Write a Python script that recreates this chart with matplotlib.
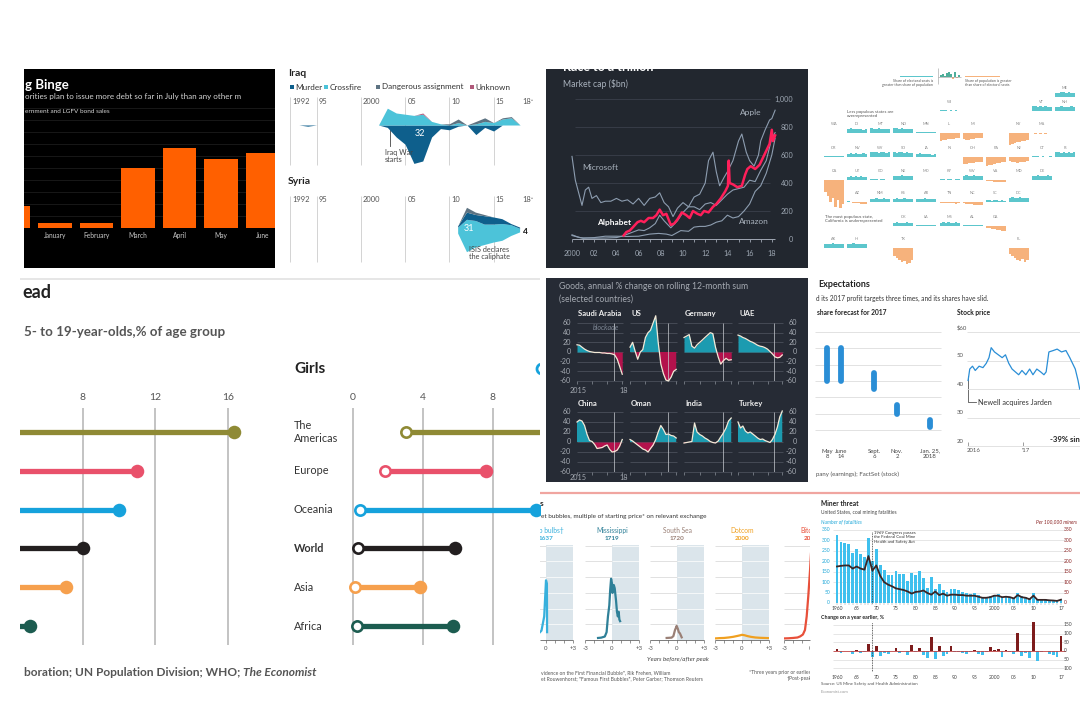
import numpy as np
import pandas as pd
import matplotlib
matplotlib.use("Agg")
import matplotlib.pyplot as plt
from matplotlib.patches import Rectangle, Circle
from matplotlib.transforms import blended_transform_factory as blend

plt.rcParams['font.family'] = ['Lato', 'DejaVu Sans']

# ============================ DATA ============================
# Panel 1 - borrowing binge
binge_months = ["July", "January", "February", "March", "April", "May", "June"]
binge_values = [110, 25, 25, 300, 400, 345, 375]

# Panel 2 - journalists killed (Iraq / Syria)
iraq_years = list(range(1992, 2019))
iraq_murder = [0, 0, 1, 0, 0, 0, 0, 0, 0, 0, 0, 2, 10, 16, 32, 30, 10, 3, 4, 1, 0, 8, 2, 5, 0, 0, 0]
iraq_crossfire = [0, 0, 0, 0, 0, 0, 0, 0, 0, 0, 0, 14, 10, 9, 8, 9, 3, 1, 0, 2, 0, 1, 3, 2, 5, 6, 0]
iraq_dangerous = [0, 0, 0, 0, 0, 0, 0, 0, 0, 0, 0, 0, 0, 0, 0, 0, 0, 0, 1, 3, 0, 2, 3, 0, 1, 1, 0]
iraq_unknown = [0, 0, 0, 0, 0, 0, 0, 0, 0, 0, 0, 0, 0, 0, 0, 1, 0, 0, 0, 0, 0, 0, 0, 0, 0, 0, 0]
syria_years = [2011, 2012, 2013, 2014, 2015, 2016, 2017, 2018]
syria_crossfire = [5, 27, 22, 17, 15, 14, 9, 3]
syria_murder = [1, 6, 5, 7, 6, 4, 1, 1]
syria_dangerous = [0, 4, 2, 1, 0, 0, 0, 0]
stream_ticks = [1992, 1995, 2000, 2005, 2010, 2015]
stream_tick_labels = ["1992", "95", "2000", "05", "10", "15"]

# Panel 3 - race to a trillion (market cap, $bn)
msft_t = [2000.0, 2000.3, 2000.6, 2000.9, 2001.2, 2001.5, 2001.8, 2002.2, 2002.6, 2003.0, 2003.5, 2004.0,
          2004.5, 2005.0, 2005.5, 2006.0, 2006.5, 2007.0, 2007.5, 2007.9, 2008.3, 2008.7, 2009.1, 2009.5,
          2010.0, 2010.5, 2011.0, 2011.5, 2012.0, 2012.5, 2013.0, 2013.5, 2014.0, 2014.5, 2015.0, 2015.5,
          2016.0, 2016.5, 2017.0, 2017.5, 2018.0, 2018.3]
msft_cap = [590, 420, 330, 240, 350, 370, 290, 310, 260, 270, 270, 290, 270, 280, 250, 290, 240, 290,
            300, 330, 260, 230, 160, 220, 260, 230, 230, 210, 250, 260, 240, 280, 320, 350, 360, 370,
            420, 410, 490, 560, 720, 760]
apple_t = [2000.0, 2000.7, 2001.0, 2002.0, 2003.0, 2004.0, 2004.5, 2005.0, 2005.5, 2006.0, 2006.5, 2007.0,
           2007.5, 2007.9, 2008.3, 2008.9, 2009.5, 2010.0, 2010.5, 2011.0, 2011.5, 2012.0, 2012.3, 2012.7,
           2013.0, 2013.3, 2013.7, 2014.0, 2014.5, 2015.0, 2015.3, 2015.7, 2016.0, 2016.4, 2016.8, 2017.0,
           2017.4, 2017.8, 2018.0, 2018.3]
apple_cap = [25, 10, 8, 6, 7, 10, 20, 35, 50, 65, 60, 80, 110, 170, 130, 80, 130, 190, 230, 300, 320,
             400, 560, 620, 480, 380, 440, 480, 560, 700, 750, 620, 560, 520, 600, 700, 780, 850, 860, 920]
googl_t = [2004.65, 2004.9, 2005.2, 2005.5, 2005.9, 2006.2, 2006.5, 2006.9, 2007.3, 2007.6, 2007.9, 2008.2,
           2008.5, 2008.9, 2009.2, 2009.5, 2009.9, 2010.3, 2010.6, 2010.9, 2011.3, 2011.6, 2011.9, 2012.3,
           2012.7, 2013.0, 2013.4, 2013.8, 2014.05, 2014.12, 2014.2, 2014.5, 2014.9, 2015.3, 2015.6, 2015.8,
           2016.1, 2016.5, 2016.9, 2017.2, 2017.5, 2017.8, 2018.0, 2018.1, 2018.3]
googl_cap = [25, 50, 60, 85, 120, 130, 120, 150, 150, 170, 210, 170, 180, 100, 110, 140, 190, 170, 150,
             200, 180, 170, 200, 190, 230, 250, 290, 340, 380, 560, 400, 390, 370, 380, 460, 500, 520,
             500, 530, 580, 630, 680, 780, 700, 740]
amzn_t = [2000.0, 2000.5, 2001.0, 2001.5, 2002.0, 2003.0, 2004.0, 2005.0, 2006.0, 2007.0, 2007.8, 2008.5,
          2009.0, 2009.8, 2010.5, 2011.0, 2011.5, 2012.0, 2012.5, 2013.0, 2013.5, 2014.0, 2014.5, 2015.0,
          2015.5, 2016.0, 2016.5, 2017.0, 2017.5, 2018.0, 2018.3]
amzn_cap = [30, 15, 5, 8, 10, 20, 20, 18, 20, 35, 40, 35, 25, 60, 55, 85, 90, 90, 100, 120, 130, 170,
            150, 160, 200, 250, 340, 380, 470, 600, 720]

# Panel 4 - tile map of electoral representation
states = ["ME", "WI", "VT", "NH", "WA", "ID", "MT", "ND", "MN", "IL", "MI", "NY", "MA",
          "OR", "NV", "WY", "SD", "IA", "IN", "OH", "PA", "NJ", "CT", "RI",
          "CA", "UT", "CO", "NE", "MO", "KY", "WV", "VA", "MD", "DE",
          "AZ", "NM", "KS", "AR", "TN", "NC", "SC", "DC",
          "OK", "LA", "MS", "AL", "GA", "AK", "HI", "TX", "FL"]
tile_col = [10, 5, 9, 10, 0, 1, 2, 3, 4, 5, 6, 8, 9,
            0, 1, 2, 3, 4, 5, 6, 7, 8, 9, 10,
            0, 1, 2, 3, 4, 5, 6, 7, 8, 9,
            1, 2, 3, 4, 5, 6, 7, 8,
            3, 4, 5, 6, 7, 0, 1, 3, 8]
tile_row = [0, 1, 1, 1, 2, 2, 2, 2, 2, 2, 2, 2, 2,
            3, 3, 3, 3, 3, 3, 3, 3, 3, 3, 3,
            4, 4, 4, 4, 4, 4, 4, 4, 4, 4,
            5, 5, 5, 5, 5, 5, 5, 5,
            6, 6, 6, 6, 6, 7, 7, 7, 7]
tile_values = [
    [4, 4, 5, 5, 4, 5, 4, 4], [1, 1, 1, 0.5, 1, 0.5, 1, 0.5], [5, 5, 4, 5, 4, 5, 4, 4], [4, 4, 5, 4, 4, 4, 5, 4],
    [0.5, 0.5, 0.5, 0.3, 0.5, 0.3, 0.3, 0.3], [4, 5, 4, 4, 4, 4, 3, 4], [5, 4, 4, 5, 4, 4, 4, 4],
    [5, 5, 4, 5, 4, 4, 4, 4], [1.5, 1, 1, 1.5, 1, 1, 1, 1], [-8, -7, -7, -6, -6, -6, -5, -5],
    [-6, -7, -7, -6, -6, -5, -5, -5], [-12, -11, -10, -9, -9, -8, -8, -7], [0.5, -1, 0.5, -1, 0.5, -0.5, 0.5, 0.5],
    [1, 1.5, 1, 1, 1.5, 1, 1, 1], [3, 4, 3, 4, 3, 3, 4, 3], [5, 5, 5, 4, 5, 5, 4, 5], [5, 4, 5, 5, 4, 5, 4, 4],
    [3, 4, 3, 3, 3, 3, 2, 3], [0.5, 0.5, 0.3, 0.5, 0.3, 0.3, 0.5, 0.3], [-7, -7, -6, -6, -6, -5, -5, -5],
    [-9, -8, -8, -7, -6, -6, -5, -5], [-4, -5, -5, -6, -5, -5, -5, -4], [1, 1, 1, 0.5, 1, 0.5, 0.5, 1],
    [5, 5, 4, 5, 4, 5, 4, 5],
    [-12, -16, -22, -18, -27, -20, -28, -24], [3, 4, 3, 4, 3, 4, 3, 3], [1, 1, 1, 0.5, 1, 1, 0.5, 0.5],
    [4, 4, 4, 5, 4, 4, 4, 4], [0.5, 0.3, 0.5, 0.3, 0.3, 0.5, 0.3, 0.3], [1, 1, 0.5, 1, 1, 0.5, 1, 1],
    [4, 5, 4, 4, 5, 4, 4, 4], [-1, -1, -1, -1.5, -1.5, -2, -2, -2], [0.5, 0.5, 0.3, -0.3, 0.3, -0.3, 0.3, 0.3],
    [4, 4, 5, 4, 4, 4, 5, 4],
    [1, 0.5, -0.5, -1, -1, -1.5, -1.5, -2], [3, 3, 4, 3, 3, 4, 3, 3], [3, 4, 3, 3, 4, 3, 3, 3],
    [3, 3, 3, 4, 3, 3, 3, 3], [-0.5, -1, -1, -0.5, -1, -1, -1.5, -1], [-1, -1.5, -2, -2, -2.5, -3, -3, -3],
    [2, 2, 1.5, 2, 2, 1.5, 2, 1.5], [4, 5, 4, 4, 5, 4, 4, 4],
    [3, 4, 3, 3, 3, 4, 3, 3], [1, 1, 0.5, 1, 0.5, 1, 0.5, 0.5], [3, 4, 3, 4, 3, 3, 4, 3],
    [1, 0.5, 1, 0.5, 1, 0.5, 0.5, 0.5], [-2, -2, -3, -3, -4, -4, -5, -5],
    [4, 4, 4, 5, 4, 4, 4, 4], [4, 4, 5, 4, 4, 4, 4, 4], [-8, -10, -12, -14, -13, -16, -15, -12],
    [-6, -8, -10, -12, -13, -11, -14, -12]]
key_values = [2, 3, 1, 4, 5, 3, -2, 5, -1, 2]

# Panel 5 - lollipops (% of age group)
regions = ["The\nAmericas", "Europe", "Oceania", "World", "Asia", "Africa"]
region_colors = ['#8f8a35', '#e9516b', '#16a2dc', '#231f20', '#f6a04d', '#1c5c50']
boys_low = [3.0, 1.5, 0.5, 0.5, 0.2, 0.4]
boys_high = [16.3, 11.0, 10.0, 8.0, 7.1, 5.1]
girls_low = [3.0, 1.8, 0.4, 0.3, 0.1, 0.2]
girls_high = [13.0, 7.6, 10.45, 5.8, 3.8, 5.7]

# Panel 6 - goods trade small multiples
trade_names = ["Saudi Arabia", "US", "Germany", "UAE", "China", "Oman", "India", "Turkey"]
trade_x = [2015.0, 2015.17, 2015.33, 2015.5, 2015.67, 2015.83, 2016.0, 2016.17, 2016.33, 2016.5,
           2016.67, 2016.83, 2017.0, 2017.17, 2017.33, 2017.5, 2017.67, 2017.83, 2018.0]
trade_sa = [15, 14, 10, 6, 3, 1, 0, -1, -1, -1, -2, -2, -3, -3, -4, -6, -15, -30, -46]
trade_us = [10, 20, 2, -15, 0, 5, 30, 40, 45, 60, 75, 20, -25, -45, -58, -60, -52, -40, -36]
trade_de = [30, 33, 36, 12, 8, 15, 20, 25, 30, 35, 40, 38, 10, -10, -25, -18, -13, -17, -16]
trade_uae = [35, 33, 30, 28, 25, 22, 20, 17, 14, 12, 11, 9, 6, 1, -4, -10, -12, -11, -6]
trade_cn = [40, 44, 42, 33, 15, 3, 1, -5, -13, -12, -11, -8, -6, -15, -20, -19, -16, -8, 5]
trade_om = [5, 2, -2, -6, -10, -14, -16, -20, -13, -6, 5, 20, 33, 25, 15, 16, 13, 12, 8]
trade_in = [-2, -1, 0, 1, 38, 20, 15, 12, 8, 5, 1, -1, -2, 2, 10, 18, 28, 42, 48]
trade_tr = [40, 28, 32, 22, 18, 20, 16, 12, 8, 5, 6, 3, 1, -1, 5, 15, 30, 50, 62]
trade_ticks = [60, 40, 20, 0, -20, -40, -60]

# Panel 7 - Newell expectations
forecast_dates = [2017.35, 2017.45, 2017.68, 2017.84, 2018.07]
forecast_labels = ["May\n8", "June\n14", "Sept.\n6", "Nov.\n2", "Jan. 25,\n2018"]
forecast_low = [3.00, 3.00, 2.95, 2.80, 2.72]
forecast_high = [3.20, 3.20, 3.05, 2.85, 2.76]
stock_t = [2016.0, 2016.03, 2016.08, 2016.13, 2016.2, 2016.27, 2016.33, 2016.38, 2016.42, 2016.48,
           2016.55, 2016.62, 2016.68, 2016.74, 2016.8, 2016.86, 2016.92, 2016.98, 2017.05, 2017.12,
           2017.18, 2017.25, 2017.32, 2017.38, 2017.42, 2017.47, 2017.55, 2017.62, 2017.7, 2017.78,
           2017.85, 2017.9, 2017.95, 2018.0, 2018.03]
stock_price = [43, 47, 48, 46.5, 48, 47.5, 49, 51, 54.5, 53, 52, 51, 52, 49, 47, 46, 45, 46.5, 45, 47,
               45, 47, 46, 45, 46, 53, 53.5, 54, 53, 53.5, 51, 49, 47, 43, 40]
stock_ticks = [60, 50, 40, 30, 20]
stock_tick_labels = ["$60", "50", "40", "30", "20"]

# Panel 8 - bubbles (multiple of starting price)
bubble_names = ["Tulip bulbs\u2020", "Mississippi", "South Sea", "Dotcom", "Bitcoin"]
bubble_years = ["1637", "1719", "1720", "2000", "2017"]
bubble_colors = ['#38b0dc', '#2f8098', '#9a8076', '#f0a020', '#e8503a']
tulip_t = [-1.0, -0.5, -0.2, 0.0, 0.1, 0.12]
tulip_v = [3, 6, 15, 38, 36, 5]
miss_t = [-1.55, -1.2, -0.8, -0.6, -0.45, -0.3, -0.2, -0.1, 0.0, 0.07, 0.2, 0.3, 0.45, 0.55, 0.65, 0.74, 0.82, 0.9]
miss_v = [1.3, 1.5, 2.2, 5, 15, 22, 32, 39, 36, 30, 35, 33, 25, 18, 15, 18, 13, 12]
south_t = [-1.15, -0.6, -0.4, -0.22, -0.1, -0.04, 0.1, 0.2, 0.33, 0.52]
south_v = [1.3, 1.5, 2.5, 6.4, 8, 9, 7, 5, 4.2, 1.7]
dotcom_t = [-3, -2.5, -2, -1.5, -1, -0.5, -0.2, 0, 0.3, 0.6, 1, 1.5, 2, 2.5, 3]
dotcom_v = [1.0, 1.2, 1.3, 1.6, 2.0, 2.6, 3.0, 3.3, 3.0, 2.5, 2.0, 1.6, 1.4, 1.3, 1.2]
btc_t = [-3, -2.5, -2, -1.5, -1.2, -0.9, -0.67, -0.48, -0.3, -0.1, 0.0]
btc_v = [1.0, 1.1, 1.3, 1.6, 2.3, 3.5, 6.4, 15, 28, 45, 55]

# Panel 9 - coal mining fatalities
mine_years = list(range(1959, 2018))
mine_fatalities = [293, 325, 294, 289, 284, 242, 259, 233, 222, 311, 203, 260, 181, 156, 132, 133, 155,
                   141, 139, 106, 144, 133, 153, 122, 70, 125, 68, 89, 63, 53, 68, 66, 61, 55, 47, 45,
                   47, 39, 30, 29, 35, 38, 42, 28, 30, 28, 23, 47, 34, 30, 18, 48, 21, 20, 20, 16, 12, 8, 15]
mine_rate = [175, 178, 180, 180, 165, 175, 165, 160, 225, 155, 180, 130, 100, 88, 80, 70, 66, 62, 55, 45,
             53, 55, 60, 48, 40, 55, 38, 45, 35, 40, 40, 38, 38, 35, 35, 35, 30, 25, 25, 28, 35, 35, 28,
             30, 28, 22, 38, 28, 25, 18, 35, 15, 15, 15, 13, 12, 10, 16]
mine_tick_years = [1960, 1965, 1970, 1975, 1980, 1985, 1990, 1995, 2000, 2005, 2010, 2017]
mine_tick_labels = ["1960", "65", "70", "75", "80", "85", "90", "95", "2000", "05", "10", "17"]

# ============================ HELPERS ============================
W, H = 1080, 722
fig = plt.figure(figsize=(W / 100, H / 100), dpi=100)
fig.patch.set_facecolor('white')


def add_ax(x0, y0, x1, y1, z=1):
    return fig.add_axes([x0 / W, 1 - y1 / H, (x1 - x0) / W, (y1 - y0) / H], zorder=z)


def clean(ax):
    ax.set_facecolor('none')
    ax.set_xticks([])
    ax.set_yticks([])
    for s in ax.spines.values():
        s.set_visible(False)
    return ax


def panel(x0, y0, x1, y1, color='white'):
    ax = add_ax(x0, y0, x1, y1, 0)
    clean(ax)
    ax.set_facecolor(color)
    ax.set_xlim(x0, x1)
    ax.set_ylim(y1, y0)
    return ax


def T(ax, x, y, s, pax=None, **kw):
    kw.setdefault('clip_on', True)
    kw.setdefault('va', 'center')
    tr = (pax or ax).transData
    return ax.text(x, y, s, transform=tr, **kw)


# ============================ PANEL 1 ============================
p1 = panel(24, 69, 275, 268, 'black')
a1 = clean(add_ax(24, 69, 275, 268, 1))
step1 = 41.5
a1.set_xlim(-(55 - 24) / step1, (275 - 55) / step1)
a1.set_ylim(-(268 - 228) * 5, (228 - 69) * 5)
pos1 = np.arange(len(binge_months)) - 1
a1.hlines(np.arange(60, 601, 60), -1, 6, color='#1c1c1c', lw=0.6, zorder=0)
a1.bar(pos1, binge_values, width=0.8, color='#ff6000', zorder=2)
for p, m in zip(pos1, binge_months):
    a1.text(p, -38, m, ha='center', va='center', fontsize=4.8, color='#c8c8c8', clip_on=True)
T(p1, 25, 85, "g Binge", fontsize=9.5, fontweight='bold', color='white')
T(p1, 25, 96.5, "orities plan to issue more debt so far in July than any other m", fontsize=5.8, color='#d4d4d4')
T(p1, 25, 111.5, "ernment and LGFV bond sales", fontsize=4.6, color='#d4d4d4')

# ============================ PANEL 2 ============================
c_murder, c_cross, c_dang, c_unk = '#0e5f8c', '#4cc3d9', '#5d7382', '#b0597a'
p2 = panel(286, 64, 540, 272)
T(p2, 288, 74, "Iraq", fontsize=7.5, fontweight='bold', color='#222222')
for name, col, x in [("Murder", c_murder, 290), ("Crossfire", c_cross, 324),
                     ("Dangerous assignment", c_dang, 376), ("Unknown", c_unk, 470)]:
    p2.add_patch(Rectangle((x, 85), 4.2, 4.2, color=col, lw=0))
    T(p2, x + 5.5, 87, name, fontsize=5.9, color='#333333')
T(p2, 288, 181, "Syria", fontsize=7.5, fontweight='bold', color='#222222')


def px2yr(px):
    return 1992 + (px - 290) / 8.85


def stream_axes(y0, y1, center):
    ax = clean(add_ax(286, y0, 540, y1, 1))
    ax.set_xlim(px2yr(286), px2yr(540))
    ax.set_ylim(-(y1 - center) / 1.2, (center - y0) / 1.2)
    return ax


a2i = stream_axes(95, 172, 125)
a2i.vlines(stream_ticks, -(165 - 125) / 1.2, (125 - 97) / 1.2, color='#cccccc', lw=0.6, zorder=0)
for yr, lab in zip(stream_ticks, stream_tick_labels):
    a2i.text(yr + 0.25, (125 - 102) / 1.2, lab, fontsize=5.4, color='#555555', va='center')
a2i.text(2018.2, (125 - 102) / 1.2, "18\u207a", fontsize=5.4, color='#555555', va='center')
yi = np.array(iraq_years)
mi, ci, di, ui = map(np.array, (iraq_murder, iraq_crossfire, iraq_dangerous, iraq_unknown))
a2i.fill_between(yi, -mi, 0, color=c_murder, lw=0)
a2i.fill_between(yi, 0, ci, color=c_cross, lw=0)
a2i.fill_between(yi, ci, ci + di, color=c_dang, lw=0)
a2i.fill_between(yi, ci + di, ci + di + ui, color=c_unk, lw=0)
T(a2i, 420, 133, "32", pax=p2, fontsize=6.5, color='white', ha='center')
p2.plot([389.5, 389.5], [128, 146], color='#444444', lw=0.6)
T(a2i, 385, 156, "Iraq War\nstarts", pax=p2, fontsize=5.2, color='#444444', ha='left', linespacing=1.05)

a2s = stream_axes(195, 266, 230)
a2s.vlines(stream_ticks, -(262 - 230) / 1.2, (230 - 196) / 1.2, color='#cccccc', lw=0.6, zorder=0)
for yr, lab in zip(stream_ticks, stream_tick_labels):
    a2s.text(yr + 0.25, (230 - 200) / 1.2, lab, fontsize=5.4, color='#555555', va='center')
a2s.text(2018.2, (230 - 200) / 1.2, "18\u207a", fontsize=5.4, color='#555555', va='center')
a2s.stackplot(syria_years, syria_crossfire, syria_murder, syria_dangerous, baseline='sym',
              colors=[c_cross, c_murder, c_dang], lw=0)
T(a2s, 469, 229, "31", pax=p2, fontsize=6.5, color='white', ha='center')
T(a2s, 523, 232, "4", pax=p2, fontsize=6, color='#111111', fontweight='bold', ha='left', clip_on=False)
p2.plot([468.5, 468.5], [236, 246], color='#444444', lw=0.6)
T(a2s, 469, 253, "ISIS declares\nthe caliphate", pax=p2, fontsize=5.2, color='#444444', ha='left',
  linespacing=1.05, clip_on=False)

# ============================ PANEL 3 ============================
p3 = panel(546, 69, 808, 268, '#22272f')
a3 = clean(add_ax(546, 69, 808, 268, 1))
a3.set_xlim(2000 + (546 - 572) / 11.1, 2000 + (808 - 572) / 11.1)
a3.set_ylim((239 - 268) / 0.14, (239 - 69) / 0.14)
a3.hlines([200, 400, 600, 800, 1000], 2000.27, 2017.84, color='#3a404b', lw=0.6, zorder=0)
a3.hlines(0, 2000, 2018.3, color='#a0a8b4', lw=0.7)
a3.vlines(range(2000, 2019), -24, 0, color='#a0a8b4', lw=0.6)
for yr in range(2000, 2019, 2):
    lab = "2000" if yr == 2000 else f"{yr % 100:02d}"
    a3.text(yr, -100, lab, ha='center', va='center', fontsize=5.2, color='#9ea7b3')
for v in [0, 200, 400, 600, 800, 1000]:
    a3.text(2019.95, v, f"{v:,}", ha='right', va='center', fontsize=5.2, color='#9ea7b3')
grey_line = '#8d9db0'
a3.plot(msft_t, msft_cap, color=grey_line, lw=0.8)
a3.plot(apple_t, apple_cap, color=grey_line, lw=0.8)
a3.plot(amzn_t, amzn_cap, color=grey_line, lw=0.8)
a3.plot(googl_t, googl_cap, color='#ff1f5a', lw=1.8)
T(p3, 563, 66.5, "Race to a trillion", fontsize=9, fontweight='bold', color='white')
T(p3, 563, 84, "Market cap ($bn)", fontsize=6.2, color='#a9b2bd')
T(a3, 751, 113, "Apple", pax=p3, fontsize=6, color='#a9b2bd', ha='center')
T(a3, 600, 167, "Microsoft", pax=p3, fontsize=6, color='#a9b2bd', ha='center')
T(a3, 614, 222, "Alphabet", pax=p3, fontsize=6, color='white', fontweight='bold', ha='center')
T(a3, 754, 221, "Amazon", pax=p3, fontsize=6, color='#a9b2bd', ha='center')

# ============================ PANEL 4 ============================
teal, orange = '#5cc6cc', '#f6b27c'
p4 = panel(815, 62, 1080, 272)
a4 = clean(add_ax(815, 62, 1080, 272, 1))
a4.set_xlim(815, 1080)
a4.set_ylim(272, 62)
col_x0, col_dx, tile_w = 834, 23.1, 20
row_y = [97, 111, 133, 157, 180, 202, 226, 248]
for s, c, r, vals in zip(states, tile_col, tile_row, tile_values):
    v = np.array(vals, dtype=float)
    n = len(v)
    cx = col_x0 + c * col_dx
    xs = cx - tile_w / 2 + (np.arange(n) + 0.5) * tile_w / n
    a4.bar(xs, -v, width=tile_w / n, bottom=row_y[r], color=np.where(v >= 0, teal, orange), lw=0)
    a4.text(cx, row_y[r] - 9, s, ha='center', va='center', fontsize=2.8, color='#888888')
kv = np.array(key_values, dtype=float)
kx = 940 + (np.arange(len(kv)) + 0.5) * 2
a4.bar(kx, -kv, width=2, bottom=77, color=np.where(kv >= 0, '#4fae9a', orange), lw=0)
a4.vlines(938, 68, 84, color='#999999', lw=0.4)
a4.hlines(77, 938, 961, color='#999999', lw=0.4)
p4.add_patch(Rectangle((900, 75.5), 33, 1.6, color=teal, lw=0))
p4.add_patch(Rectangle((965, 75.5), 35, 1.6, color=orange, lw=0))
T(p4, 933, 83, "Share of electoral seats is\ngreater than share of population", fontsize=2.6, color='#555555',
  ha='right', linespacing=1.0)
T(p4, 965, 83, "Share of population is greater\nthan share of electoral seats", fontsize=2.6, color='#555555',
  ha='left', linespacing=1.0)
T(p4, 847, 114.5, "Less populous states are\noverrepresented", fontsize=3.2, color='#555555', ha='left',
  linespacing=1.0)
T(p4, 825, 219.5, "The most populous state,\nCalifornia is underrepresented", fontsize=3.2, color='#555555',
  ha='left', linespacing=1.0)

# ============================ PANEL 5 ============================
p5 = panel(20, 276, 540, 702)
p5.hlines(279, 20, 540, color='#e2e2e2', lw=1.2)
T(p5, 22, 293, "ead", fontsize=13, fontweight='bold', color='#222222')
T(p5, 24, 332, "5- to 19-year-olds,% of age group", fontsize=9.6, fontweight='bold', color='#555555')
T(p5, 294, 369, "Girls", fontsize=11, fontweight='bold', color='#222222')
p5.add_patch(Circle((542, 369), 5, fill=False, edgecolor='#16a2dc', lw=2))
row_px0, row_dpx = 432, 38.8
for i, name in enumerate(regions):
    T(p5, 294, row_px0 + row_dpx * i, name, fontsize=7.8, color='#333333', ha='left',
      fontweight='bold' if name == 'World' else 'normal', linespacing=1.15)


def lolli_axes(x0, x1, px0, pxu, ticks):
    ax = clean(add_ax(x0, 408, x1, 645, 1))
    ax.set_xlim((x0 - px0) / pxu, (x1 - px0) / pxu)
    ax.set_ylim((645 - row_px0) / row_dpx, (408 - row_px0) / row_dpx)
    ax.vlines(ticks, (645 - row_px0) / row_dpx, (408 - row_px0) / row_dpx, color='#b9b9b9', lw=1.2, zorder=0)
    tr = blend(ax.transData, p5.transData)
    for t in ticks:
        ax.text(t, 397, str(t), transform=tr, ha='center', va='center', fontsize=7.5, color='#555555')
    return ax


a5l = lolli_axes(20, 285, -63, 18.2, [8, 12, 16])
a5r = lolli_axes(340, 540, 353, 17.5, [0, 4, 8])
for ax, lo, hi in [(a5l, boys_low, boys_high), (a5r, girls_low, girls_high)]:
    for i in range(len(regions)):
        col = region_colors[i]
        ax.plot([lo[i], hi[i]], [i, i], color=col, lw=3.8, solid_capstyle='butt', zorder=2)
        ax.scatter([hi[i]], [i], s=95, color=col, zorder=3, lw=0)
        ax.scatter([lo[i]], [i], s=55, facecolor='white', edgecolor=col, lw=1.9, zorder=4)
src = T(p5, 24, 672, "boration; UN Population Division; WHO; ", fontsize=8.6, fontweight='bold', color='#555555')
fig.canvas.draw()
bb = src.get_window_extent(fig.canvas.get_renderer())
x_end = p5.transData.inverted().transform((bb.x1, bb.y0))[0]
T(p5, x_end, 672, "The Economist", fontsize=8.6, fontweight='bold', fontstyle='italic', color='#555555')

# ============================ PANEL 6 ============================
p6 = panel(546, 278, 808, 482, '#262b35')
T(p6, 559, 287, "Goods, annual % change on rolling 12-month sum", fontsize=6.2, color='#a4a9b1')
T(p6, 559, 299, "(selected countries)", fontsize=6.2, color='#a4a9b1')
sub_x = [(577, 623), (630, 677), (684, 732), (738, 783)]
sub_y = [(323, 381), (412, 472)]
title_y = [314, 404]
trade_series = [trade_sa, trade_us, trade_de, trade_uae, trade_cn, trade_om, trade_in, trade_tr]
tx = np.array(trade_x)
for k, (name, vals) in enumerate(zip(trade_names, trade_series)):
    r, c = divmod(k, 4)
    x0, x1 = sub_x[c]
    y0, y1 = sub_y[r]
    ax = clean(add_ax(x0, y0, x1, y1, 2))
    ax.set_xlim(2015, 2018.05)
    ax.set_ylim(-60, 60)
    ax.hlines(np.arange(-60, 61, 20), 2015, 2018.05, color='#4a505b', lw=0.6, zorder=0, clip_on=False)
    v = np.array(vals, dtype=float)
    ax.fill_between(tx, v, 0, where=v >= 0, interpolate=True, color='#1c9bb0', lw=0, clip_on=False)
    ax.fill_between(tx, v, 0, where=v <= 0, interpolate=True, color='#b3124c', lw=0, clip_on=False)
    ax.plot(tx, v, color='#f3ead8', lw=0.9, clip_on=False, zorder=3)
    ax.vlines(2017.45, -60, 60, color='#c9ccd2', lw=0.5, zorder=2)
    ax.vlines([2015, 2016, 2017, 2018], -66, -60, color='#8a9099', lw=0.5, clip_on=False)
    T(ax, x0 + 1, title_y[r], name, pax=p6, fontsize=5.6, fontweight='bold', color='#eeeeee', clip_on=False)
    if c == 0:
        tr = blend(p6.transData, ax.transData)
        for t in trade_ticks:
            ax.text(571, t, str(t), transform=tr, ha='right', va='center', fontsize=5.2, color='#a4a9b1')
        yl = 391 if r == 0 else 478
        T(p6, 578, yl, "2015", fontsize=5.2, color='#a4a9b1', ha='center')
        T(p6, 624, yl, "18", fontsize=5.2, color='#a4a9b1', ha='center')
    if c == 3:
        tr = blend(p6.transData, ax.transData)
        for t in trade_ticks:
            ax.text(797, t, str(t), transform=tr, ha='right', va='center', fontsize=5.2, color='#a4a9b1')
T(p6, 593, 328, "blockade", fontsize=5, fontstyle='italic', color='#7f8896')

# ============================ PANEL 7 ============================
blue7 = '#2a8ed6'
p7 = panel(815, 276, 1080, 488)
T(p7, 818, 285, "Expectations", fontsize=6.5, fontweight='bold', color='#222222')
T(p7, 816, 298, "d its 2017 profit targets three times, and its shares have slid.", fontsize=4.7, color='#333333')
T(p7, 817, 313, "share forecast for 2017", fontsize=4.8, fontweight='bold', color='#222222')
T(p7, 957, 313, "Stock price", fontsize=4.8, fontweight='bold', color='#222222')
a7l = clean(add_ax(815, 332, 941, 430, 1))
a7l.set_xlim(2017.266, 2018.147)
a7l.set_ylim(2.70, 3.30)
a7l.hlines(np.arange(2.7, 3.31, 0.1), 2017.266, 2018.147, color='#dddddd', lw=0.6, zorder=0, clip_on=False)
a7l.vlines(forecast_dates, forecast_low, forecast_high, lw=4.2, color=blue7, capstyle='round')
tr7 = blend(a7l.transData, p7.transData)
for d, lab in zip(forecast_dates, forecast_labels):
    a7l.text(d, 454, lab, transform=tr7, ha='center', va='center', fontsize=4.3, color='#444444',
             linespacing=1.15)
T(p7, 816, 474, "pany (earnings); FactSet (stock)", fontsize=4.4, color='#555555')
a7r = clean(add_ax(967, 332, 1080, 446, 1))
a7r.set_xlim(2015.98, 2018.036)
a7r.set_ylim(20, 60)
a7r.hlines(stock_ticks, 2015.98, 2018.036, color='#dddddd', lw=0.6, zorder=0, clip_on=False)
a7r.plot(stock_t, stock_price, color=blue7, lw=0.9)
trs = blend(p7.transData, a7r.transData)
for t, lab in zip(stock_ticks, stock_tick_labels):
    a7r.text(957, t + 1.6, lab, transform=trs, ha='left', va='center', fontsize=4.3, color='#555555')
trx = blend(a7r.transData, p7.transData)
a7r.text(2016.1, 451, "2016", transform=trx, ha='center', va='center', fontsize=4.3, color='#555555')
a7r.text(2017.04, 451, "'17", transform=trx, ha='center', va='center', fontsize=4.3, color='#555555')
a7r.vlines([2016.0, 2017.0], 20, 21.5, color='#777777', lw=0.5)
p7.plot([968, 968, 976], [376, 402, 402], color='#555555', lw=0.6)
T(p7, 978, 402, "Newell acquires Jarden", fontsize=5.2, color='#333333')
T(p7, 1050, 440, "-39% sin", fontsize=5.6, fontweight='bold', color='#222222')

# ============================ PANEL 8 ============================
p8 = panel(540, 488, 810, 702)
p8.hlines(493.5, 540, 810, color='#f0a5a0', lw=1.6)
T(p8, 540, 504, "s", fontsize=6, fontweight='bold', color='#222222')
T(p8, 541, 517, "et bubbles, multiple of starting price* on relevant exchange", fontsize=4.6, color='#333333')
bubble_zero = [546, 612, 677, 742, 811]
bubble_t = [tulip_t, miss_t, south_t, dotcom_t, btc_t]
bubble_v = [tulip_v, miss_v, south_v, dotcom_v, btc_v]
for name, yr, col, z, bt, bv in zip(bubble_names, bubble_years, bubble_colors, bubble_zero, bubble_t, bubble_v):
    x0 = max(540, z - 27)
    x1 = min(810, z + 27)
    ax = clean(add_ax(x0, 545, x1, 640, 1))
    lo, hi = (x0 - z) / 9, (x1 - z) / 9
    ax.set_xlim(lo, hi)
    ax.set_ylim(0, 60.5)
    ax.axvspan(0, 3, color='#dbe5eb', lw=0, zorder=0)
    ax.hlines(range(10, 61, 10), -3, 0, color='#d5d5d5', lw=0.5, zorder=0.5)
    ax.hlines(range(10, 61, 10), 0, 3, color='white', lw=0.5, zorder=0.5)
    ax.hlines(0, lo, hi, color='#666666', lw=0.6, clip_on=False)
    tk = [t for t in range(-3, 4) if lo <= t <= hi]
    ax.vlines(tk, -1.6, 0, color='#666666', lw=0.5, clip_on=False)
    ax.plot(bt, bv, color=col, lw=1.6, zorder=3)
    trb = blend(ax.transData, p8.transData)
    for t, lab in [(-3, "-3"), (0, "0"), (3, "+3")]:
        p8.text(t, 649, lab, transform=trb, ha='center', va='center', fontsize=4.4, color='#555555',
                clip_on=True)
    p8.text(0, 531, name, transform=trb, ha='center', va='center', fontsize=4.8, color=col, clip_on=True)
    p8.text(0, 538.5, yr, transform=trb, ha='center', va='center', fontsize=4.6, color=col,
            fontweight='bold', clip_on=True)
T(p8, 678, 659, "Years before/after peak", fontsize=4.5, fontstyle='italic', color='#444444', ha='center')
T(p8, 541, 673, "vidence on the First Financial Bubble\", Rik Frehen, William", fontsize=3.6, color='#555555')
T(p8, 541, 679, "et Rouwenhorst; \"Famous First Bubbles\", Peter Garber; Thomson Reuters", fontsize=3.6,
  color='#555555')
T(p8, 812, 673, "*Three years prior or earliest", fontsize=3.6, color='#555555', ha='right')
T(p8, 812, 679, "\u2020Post-peak", fontsize=3.6, color='#555555', ha='right')

# ============================ PANEL 9 ============================
p9 = panel(810, 488, 1080, 702)
p9.hlines(493.5, 810, 1080, color='#f0a5a0', lw=1.6)
T(p9, 821, 504, "Miner threat", fontsize=4.8, fontweight='bold', color='#222222')
T(p9, 821, 513, "United States, coal mining fatalities", fontsize=3.5, color='#444444')
T(p9, 821, 522, "Number of fatalities", fontsize=3.5, fontstyle='italic', color='#1ea7d8')
T(p9, 1077, 522, "Per 100,000 miners", fontsize=3.5, fontstyle='italic', color='#8a2222', ha='right')
xl9 = (1960 - 4 / 3.93, 2017 + 5 / 3.93)
a9t = clean(add_ax(833, 528, 1066, 603, 1))
a9t.set_xlim(*xl9)
a9t.set_ylim(0, 75 / 0.2086)
a9t.hlines(range(50, 351, 50), *xl9, color='#dcdcdc', lw=0.5, zorder=0)
y9 = np.array(mine_years[1:])
a9t.bar(y9, mine_fatalities[1:], width=0.72, color='#3fc0ee', zorder=1)
a9t.plot(y9, mine_rate, color='#3a2626', lw=1.3, zorder=3)
a9t.hlines(0, *xl9, color='#666666', lw=0.6, zorder=4)
a9t.vlines(y9, -8, 0, color='#888888', lw=0.3, clip_on=False)
a9t.vlines(1969, 0, 340, color='#333333', lw=0.6, linestyles=(0, (1, 1)), zorder=4, clip_on=False)
tr9 = blend(p9.transData, a9t.transData)
for v in range(0, 351, 50):
    a9t.text(830, v, str(v), transform=tr9, ha='right', va='center', fontsize=3.6, color='#1ea7d8')
    a9t.text(1064, v, str(v), transform=tr9, ha='left', va='center', fontsize=3.6, color='#8a2222')
for yr, lab in zip(mine_tick_years, mine_tick_labels):
    a9t.text(yr, -26, lab, ha='center', va='center', fontsize=3.6, color='#444444', clip_on=False)
T(a9t, 874, 537.5, "1969 Congress passes\nthe Federal Coal Mine\nHealth and Safety Act", pax=p9, fontsize=3.1,
  color='#333333', ha='left', linespacing=1.1)

T(p9, 821, 618, "Change on a year earlier, %", fontsize=3.8, fontweight='bold', color='#222222')
a9b = clean(add_ax(833, 622, 1066, 672, 1))
a9b.set_xlim(*xl9)
a9b.set_ylim(-(672 - 651) / 0.174, (651 - 622) / 0.174)
a9b.hlines([-100, -50, 50, 100, 150], *xl9, color='#dcdcdc', lw=0.5, zorder=0)
change = pd.Series(mine_fatalities, index=mine_years).pct_change().mul(100).iloc[1:]
a9b.bar(change.index, change.values, width=0.72, color=np.where(change.values >= 0, '#7d1c1c', '#3fc0ee'),
        zorder=1)
a9b.hlines(0, *xl9, color='#c04040', lw=0.6, zorder=2)
a9b.vlines(1969, -120, 166, color='#333333', lw=0.6, linestyles=(0, (1, 1)), zorder=4)
tr9b = blend(p9.transData, a9b.transData)
for v in [150, 100, 50, 0, -50, -100]:
    a9b.text(1064, v, str(abs(v)), transform=tr9b, ha='left', va='center', fontsize=3.6, color='#444444')
for yr, lab in zip(mine_tick_years, mine_tick_labels):
    a9b.text(yr, -150, lab, ha='center', va='center', fontsize=3.6, color='#444444', clip_on=False)
T(p9, 821, 684, "Source: US Mine Safety and Health Administration", fontsize=3.2, color='#555555')
T(p9, 821, 692, "Economist.com", fontsize=3.0, color='#999999')

fig.savefig("out.png", dpi=100, facecolor='white')
